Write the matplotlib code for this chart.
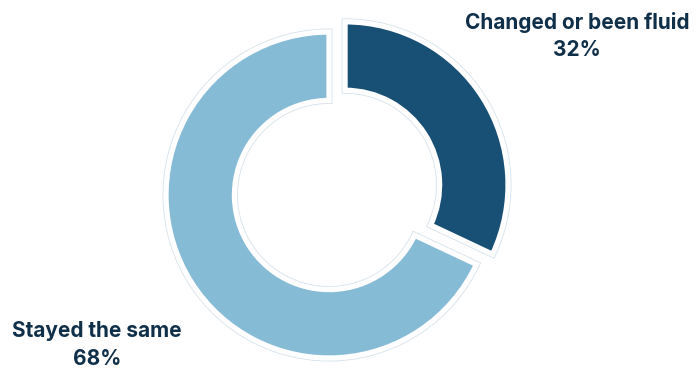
import matplotlib.pyplot as plt

# share of respondents
labels = ["Changed or been fluid", "Stayed the same"]
shares = [32, 68]
colors = ["#174f75", "#86bbd6"]

fig = plt.figure(figsize=(6.96, 3.7), dpi=100)
ax = fig.add_axes([0, 0, 1, 1])

radius = 163
center = (329, 175)
explode = [19, 0]

# faint outline pass, then white border pass on top
for edge, lw in [("#d6e2ea", 5.0), ("white", 3.8)]:
    ax.pie(shares, colors=colors, startangle=90, counterclock=False,
           radius=radius, center=center, explode=explode,
           wedgeprops=dict(width=radius * 0.42, edgecolor=edge, linewidth=lw))

ax.set_xlim(0, 696)
ax.set_ylim(0, 370)
ax.set_aspect("equal")
ax.axis("off")

text_kw = dict(ha="center", va="center", fontsize=15, fontweight="bold",
               color="#10304a", family=["Inter", "DejaVu Sans"], linespacing=1.45)
ax.text(577, 334, f"{labels[0]}\n{shares[0]}%", **text_kw)
ax.text(97, 25, f"{labels[1]}\n{shares[1]}%", **text_kw)

fig.savefig("out.png", dpi=100)
